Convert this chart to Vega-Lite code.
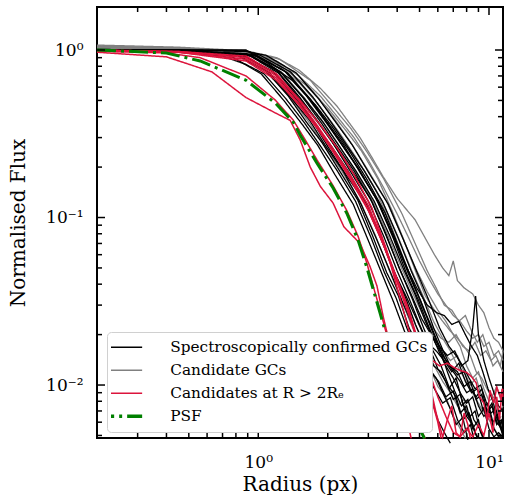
{
"$schema":"https://vega.github.io/schema/vega-lite/v6.json",
"width":406,"height":431,
"autosize":{"type":"none"},
"padding":{"left":97,"top":7,"right":3,"bottom":61},
"background":"white",
"config":{"view":{"stroke":"black","strokeWidth":2},
"axis":{"domain":false,"grid":false,"tickColor":"black","tickWidth":1.5,"labelFont":"DejaVu Serif","labelFontSize":17,"labelColor":"black","titleFont":"DejaVu Serif","titleFontSize":20,"titleFontWeight":"normal","titleColor":"black"}},
"datasets":{
"tk":[
{"a":"x","k":"M","v":1},{"a":"x","k":"M","v":10},
{"a":"x","k":"m","v":0.3},{"a":"x","k":"m","v":0.4},{"a":"x","k":"m","v":0.5},{"a":"x","k":"m","v":0.6},{"a":"x","k":"m","v":0.7},{"a":"x","k":"m","v":0.8},{"a":"x","k":"m","v":0.9},{"a":"x","k":"m","v":2},{"a":"x","k":"m","v":3},{"a":"x","k":"m","v":4},{"a":"x","k":"m","v":5},{"a":"x","k":"m","v":6},{"a":"x","k":"m","v":7},{"a":"x","k":"m","v":8},{"a":"x","k":"m","v":9},
{"a":"y","k":"M","v":0.01},{"a":"y","k":"M","v":0.1},{"a":"y","k":"M","v":1},
{"a":"y","k":"m","v":0.005},{"a":"y","k":"m","v":0.006},{"a":"y","k":"m","v":0.007},{"a":"y","k":"m","v":0.008},{"a":"y","k":"m","v":0.009},{"a":"y","k":"m","v":0.02},{"a":"y","k":"m","v":0.03},{"a":"y","k":"m","v":0.04},{"a":"y","k":"m","v":0.05},{"a":"y","k":"m","v":0.06},{"a":"y","k":"m","v":0.07},{"a":"y","k":"m","v":0.08},{"a":"y","k":"m","v":0.09},{"a":"y","k":"m","v":0.2},{"a":"y","k":"m","v":0.3},{"a":"y","k":"m","v":0.4},{"a":"y","k":"m","v":0.5},{"a":"y","k":"m","v":0.6},{"a":"y","k":"m","v":0.7},{"a":"y","k":"m","v":0.8},{"a":"y","k":"m","v":0.9}
],
"d":[
{"s":"b1","g":"b","r":0.2,"f":1.0},{"s":"b1","g":"b","r":0.45,"f":0.98},{"s":"b1","g":"b","r":0.76,"f":0.92},{"s":"b1","g":"b","r":1.03,"f":0.72},{"s":"b1","g":"b","r":1.29,"f":0.5},{"s":"b1","g":"b","r":1.55,"f":0.36},{"s":"b1","g":"b","r":1.81,"f":0.27},{"s":"b1","g":"b","r":2.15,"f":0.18},{"s":"b1","g":"b","r":2.58,"f":0.12},{"s":"b1","g":"b","r":3.01,"f":0.072},{"s":"b1","g":"b","r":3.44,"f":0.046},{"s":"b1","g":"b","r":3.87,"f":0.031},{"s":"b1","g":"b","r":4.3,"f":0.021},{"s":"b1","g":"b","r":4.73,"f":0.015},{"s":"b1","g":"b","r":5.16,"f":0.011},{"s":"b1","g":"b","r":5.6,"f":0.0085},{"s":"b1","g":"b","r":6.0,"f":0.0062},{"s":"b1","g":"b","r":6.5,"f":0.005},{"s":"b1","g":"b","r":6.8,"f":0.0045},
{"s":"b2","g":"b","r":0.2,"f":0.99},{"s":"b2","g":"b","r":0.45,"f":0.99},{"s":"b2","g":"b","r":0.8,"f":0.94},{"s":"b2","g":"b","r":1.08,"f":0.75},{"s":"b2","g":"b","r":1.35,"f":0.53},{"s":"b2","g":"b","r":1.62,"f":0.37},{"s":"b2","g":"b","r":1.89,"f":0.28},{"s":"b2","g":"b","r":2.25,"f":0.19},{"s":"b2","g":"b","r":2.7,"f":0.127},{"s":"b2","g":"b","r":3.15,"f":0.076},{"s":"b2","g":"b","r":3.6,"f":0.047},{"s":"b2","g":"b","r":4.05,"f":0.034},{"s":"b2","g":"b","r":4.5,"f":0.022},{"s":"b2","g":"b","r":4.95,"f":0.017},{"s":"b2","g":"b","r":5.4,"f":0.013},{"s":"b2","g":"b","r":5.9,"f":0.011},{"s":"b2","g":"b","r":6.3,"f":0.009},{"s":"b2","g":"b","r":6.8,"f":0.0072},{"s":"b2","g":"b","r":7.2,"f":0.0058},{"s":"b2","g":"b","r":7.7,"f":0.0064},{"s":"b2","g":"b","r":8.1,"f":0.0047},
{"s":"b3","g":"b","r":0.2,"f":1.01},{"s":"b3","g":"b","r":0.45,"f":0.99},{"s":"b3","g":"b","r":0.82,"f":0.93},{"s":"b3","g":"b","r":1.12,"f":0.73},{"s":"b3","g":"b","r":1.4,"f":0.51},{"s":"b3","g":"b","r":1.67,"f":0.38},{"s":"b3","g":"b","r":1.95,"f":0.27},{"s":"b3","g":"b","r":2.33,"f":0.19},{"s":"b3","g":"b","r":2.79,"f":0.12},{"s":"b3","g":"b","r":3.26,"f":0.074},{"s":"b3","g":"b","r":3.72,"f":0.048},{"s":"b3","g":"b","r":4.19,"f":0.032},{"s":"b3","g":"b","r":4.65,"f":0.023},{"s":"b3","g":"b","r":5.12,"f":0.016},{"s":"b3","g":"b","r":5.58,"f":0.012},{"s":"b3","g":"b","r":6.05,"f":0.0105},{"s":"b3","g":"b","r":6.5,"f":0.0085},{"s":"b3","g":"b","r":7.0,"f":0.0092},{"s":"b3","g":"b","r":7.5,"f":0.0068},{"s":"b3","g":"b","r":8.0,"f":0.0075},{"s":"b3","g":"b","r":8.5,"f":0.0055},{"s":"b3","g":"b","r":9.0,"f":0.0062},{"s":"b3","g":"b","r":9.4,"f":0.0048},
{"s":"b4","g":"b","r":0.2,"f":1.0},{"s":"b4","g":"b","r":0.45,"f":0.99},{"s":"b4","g":"b","r":0.85,"f":0.93},{"s":"b4","g":"b","r":1.15,"f":0.75},{"s":"b4","g":"b","r":1.44,"f":0.52},{"s":"b4","g":"b","r":1.73,"f":0.37},{"s":"b4","g":"b","r":2.02,"f":0.26},{"s":"b4","g":"b","r":2.4,"f":0.18},{"s":"b4","g":"b","r":2.88,"f":0.125},{"s":"b4","g":"b","r":3.36,"f":0.078},{"s":"b4","g":"b","r":3.84,"f":0.049},{"s":"b4","g":"b","r":4.32,"f":0.034},{"s":"b4","g":"b","r":4.8,"f":0.023},{"s":"b4","g":"b","r":5.28,"f":0.017},{"s":"b4","g":"b","r":5.76,"f":0.013},{"s":"b4","g":"b","r":6.2,"f":0.012},{"s":"b4","g":"b","r":6.7,"f":0.0095},{"s":"b4","g":"b","r":7.2,"f":0.011},{"s":"b4","g":"b","r":7.7,"f":0.0078},{"s":"b4","g":"b","r":8.2,"f":0.0064},{"s":"b4","g":"b","r":8.7,"f":0.007},{"s":"b4","g":"b","r":9.2,"f":0.0052},{"s":"b4","g":"b","r":9.5,"f":0.0048},
{"s":"b5","g":"b","r":0.2,"f":1.0},{"s":"b5","g":"b","r":0.45,"f":0.98},{"s":"b5","g":"b","r":0.87,"f":0.92},{"s":"b5","g":"b","r":1.18,"f":0.73},{"s":"b5","g":"b","r":1.47,"f":0.52},{"s":"b5","g":"b","r":1.76,"f":0.36},{"s":"b5","g":"b","r":2.06,"f":0.27},{"s":"b5","g":"b","r":2.45,"f":0.19},{"s":"b5","g":"b","r":2.94,"f":0.12},{"s":"b5","g":"b","r":3.43,"f":0.075},{"s":"b5","g":"b","r":3.92,"f":0.046},{"s":"b5","g":"b","r":4.41,"f":0.033},{"s":"b5","g":"b","r":4.9,"f":0.024},{"s":"b5","g":"b","r":5.39,"f":0.018},{"s":"b5","g":"b","r":5.9,"f":0.016},{"s":"b5","g":"b","r":6.4,"f":0.014},{"s":"b5","g":"b","r":6.9,"f":0.012},{"s":"b5","g":"b","r":7.4,"f":0.0135},{"s":"b5","g":"b","r":7.9,"f":0.0105},{"s":"b5","g":"b","r":8.4,"f":0.009},{"s":"b5","g":"b","r":8.9,"f":0.0095},{"s":"b5","g":"b","r":9.4,"f":0.0072},{"s":"b5","g":"b","r":9.9,"f":0.0078},{"s":"b5","g":"b","r":10.4,"f":0.006},{"s":"b5","g":"b","r":10.9,"f":0.0065},{"s":"b5","g":"b","r":11.5,"f":0.005},
{"s":"b6","g":"b","r":0.2,"f":0.99},{"s":"b6","g":"b","r":0.45,"f":0.99},{"s":"b6","g":"b","r":0.885,"f":0.95},{"s":"b6","g":"b","r":1.2,"f":0.76},{"s":"b6","g":"b","r":1.5,"f":0.53},{"s":"b6","g":"b","r":1.8,"f":0.38},{"s":"b6","g":"b","r":2.1,"f":0.28},{"s":"b6","g":"b","r":2.5,"f":0.19},{"s":"b6","g":"b","r":3.0,"f":0.125},{"s":"b6","g":"b","r":3.5,"f":0.077},{"s":"b6","g":"b","r":4.0,"f":0.048},{"s":"b6","g":"b","r":4.5,"f":0.033},{"s":"b6","g":"b","r":5.0,"f":0.023},{"s":"b6","g":"b","r":5.5,"f":0.017},{"s":"b6","g":"b","r":6.0,"f":0.0125},{"s":"b6","g":"b","r":6.5,"f":0.0105},{"s":"b6","g":"b","r":7.0,"f":0.0082},{"s":"b6","g":"b","r":7.5,"f":0.0088},{"s":"b6","g":"b","r":8.0,"f":0.0065},{"s":"b6","g":"b","r":8.5,"f":0.0058},{"s":"b6","g":"b","r":8.9,"f":0.0048},
{"s":"b7","g":"b","r":0.2,"f":1.0},{"s":"b7","g":"b","r":0.45,"f":0.99},{"s":"b7","g":"b","r":0.9,"f":0.94},{"s":"b7","g":"b","r":1.22,"f":0.73},{"s":"b7","g":"b","r":1.53,"f":0.5},{"s":"b7","g":"b","r":1.84,"f":0.36},{"s":"b7","g":"b","r":2.14,"f":0.27},{"s":"b7","g":"b","r":2.55,"f":0.19},{"s":"b7","g":"b","r":3.06,"f":0.13},{"s":"b7","g":"b","r":3.57,"f":0.08},{"s":"b7","g":"b","r":4.08,"f":0.05},{"s":"b7","g":"b","r":4.59,"f":0.035},{"s":"b7","g":"b","r":5.1,"f":0.025},{"s":"b7","g":"b","r":5.61,"f":0.02},{"s":"b7","g":"b","r":6.1,"f":0.017},{"s":"b7","g":"b","r":6.6,"f":0.015},{"s":"b7","g":"b","r":7.1,"f":0.016},{"s":"b7","g":"b","r":7.6,"f":0.013},{"s":"b7","g":"b","r":8.1,"f":0.014},{"s":"b7","g":"b","r":8.5,"f":0.022},{"s":"b7","g":"b","r":8.75,"f":0.034},{"s":"b7","g":"b","r":9.0,"f":0.02},{"s":"b7","g":"b","r":9.5,"f":0.014},{"s":"b7","g":"b","r":10.0,"f":0.011},{"s":"b7","g":"b","r":10.5,"f":0.009},{"s":"b7","g":"b","r":11.0,"f":0.0075},{"s":"b7","g":"b","r":11.5,"f":0.007},
{"s":"b8","g":"b","r":0.2,"f":1.0},{"s":"b8","g":"b","r":0.45,"f":0.99},{"s":"b8","g":"b","r":0.92,"f":0.93},{"s":"b8","g":"b","r":1.25,"f":0.74},{"s":"b8","g":"b","r":1.56,"f":0.52},{"s":"b8","g":"b","r":1.87,"f":0.37},{"s":"b8","g":"b","r":2.18,"f":0.27},{"s":"b8","g":"b","r":2.6,"f":0.19},{"s":"b8","g":"b","r":3.12,"f":0.123},{"s":"b8","g":"b","r":3.64,"f":0.074},{"s":"b8","g":"b","r":4.16,"f":0.047},{"s":"b8","g":"b","r":4.68,"f":0.032},{"s":"b8","g":"b","r":5.2,"f":0.022},{"s":"b8","g":"b","r":5.72,"f":0.016},{"s":"b8","g":"b","r":6.2,"f":0.013},{"s":"b8","g":"b","r":6.7,"f":0.0098},{"s":"b8","g":"b","r":7.2,"f":0.0085},{"s":"b8","g":"b","r":7.7,"f":0.0062},{"s":"b8","g":"b","r":8.2,"f":0.0068},{"s":"b8","g":"b","r":8.7,"f":0.0052},{"s":"b8","g":"b","r":9.0,"f":0.0048},
{"s":"b9","g":"b","r":0.2,"f":0.98},{"s":"b9","g":"b","r":0.45,"f":0.98},{"s":"b9","g":"b","r":0.94,"f":0.92},{"s":"b9","g":"b","r":1.27,"f":0.72},{"s":"b9","g":"b","r":1.59,"f":0.51},{"s":"b9","g":"b","r":1.91,"f":0.37},{"s":"b9","g":"b","r":2.23,"f":0.27},{"s":"b9","g":"b","r":2.65,"f":0.19},{"s":"b9","g":"b","r":3.18,"f":0.125},{"s":"b9","g":"b","r":3.71,"f":0.078},{"s":"b9","g":"b","r":4.24,"f":0.05},{"s":"b9","g":"b","r":4.77,"f":0.035},{"s":"b9","g":"b","r":5.3,"f":0.024},{"s":"b9","g":"b","r":5.83,"f":0.018},{"s":"b9","g":"b","r":6.3,"f":0.015},{"s":"b9","g":"b","r":6.8,"f":0.013},{"s":"b9","g":"b","r":7.3,"f":0.0115},{"s":"b9","g":"b","r":7.8,"f":0.012},{"s":"b9","g":"b","r":8.3,"f":0.0095},{"s":"b9","g":"b","r":8.8,"f":0.0085},{"s":"b9","g":"b","r":9.3,"f":0.0095},{"s":"b9","g":"b","r":9.8,"f":0.007},{"s":"b9","g":"b","r":10.3,"f":0.0078},{"s":"b9","g":"b","r":10.8,"f":0.006},{"s":"b9","g":"b","r":11.3,"f":0.0055},{"s":"b9","g":"b","r":11.5,"f":0.006},
{"s":"b10","g":"b","r":0.2,"f":1.0},{"s":"b10","g":"b","r":0.45,"f":0.99},{"s":"b10","g":"b","r":0.96,"f":0.93},{"s":"b10","g":"b","r":1.3,"f":0.75},{"s":"b10","g":"b","r":1.62,"f":0.53},{"s":"b10","g":"b","r":1.94,"f":0.38},{"s":"b10","g":"b","r":2.27,"f":0.28},{"s":"b10","g":"b","r":2.7,"f":0.2},{"s":"b10","g":"b","r":3.24,"f":0.13},{"s":"b10","g":"b","r":3.78,"f":0.082},{"s":"b10","g":"b","r":4.32,"f":0.053},{"s":"b10","g":"b","r":4.86,"f":0.038},{"s":"b10","g":"b","r":5.4,"f":0.03},{"s":"b10","g":"b","r":5.94,"f":0.027},{"s":"b10","g":"b","r":6.4,"f":0.026},{"s":"b10","g":"b","r":6.9,"f":0.023},{"s":"b10","g":"b","r":7.4,"f":0.024},{"s":"b10","g":"b","r":7.9,"f":0.02},{"s":"b10","g":"b","r":8.4,"f":0.017},{"s":"b10","g":"b","r":8.9,"f":0.015},{"s":"b10","g":"b","r":9.4,"f":0.012},{"s":"b10","g":"b","r":9.9,"f":0.0095},{"s":"b10","g":"b","r":10.4,"f":0.008},{"s":"b10","g":"b","r":10.9,"f":0.0062},{"s":"b10","g":"b","r":11.5,"f":0.005},
{"s":"b11","g":"b","r":0.2,"f":1.0},{"s":"b11","g":"b","r":0.45,"f":1.0},{"s":"b11","g":"b","r":0.97,"f":0.94},{"s":"b11","g":"b","r":1.32,"f":0.74},{"s":"b11","g":"b","r":1.65,"f":0.52},{"s":"b11","g":"b","r":1.98,"f":0.37},{"s":"b11","g":"b","r":2.31,"f":0.27},{"s":"b11","g":"b","r":2.75,"f":0.19},{"s":"b11","g":"b","r":3.3,"f":0.124},{"s":"b11","g":"b","r":3.85,"f":0.075},{"s":"b11","g":"b","r":4.4,"f":0.046},{"s":"b11","g":"b","r":4.95,"f":0.032},{"s":"b11","g":"b","r":5.5,"f":0.022},{"s":"b11","g":"b","r":6.05,"f":0.016},{"s":"b11","g":"b","r":6.5,"f":0.013},{"s":"b11","g":"b","r":7.0,"f":0.011},{"s":"b11","g":"b","r":7.5,"f":0.009},{"s":"b11","g":"b","r":8.0,"f":0.0078},{"s":"b11","g":"b","r":8.5,"f":0.0085},{"s":"b11","g":"b","r":9.0,"f":0.0065},{"s":"b11","g":"b","r":9.5,"f":0.0072},{"s":"b11","g":"b","r":10.0,"f":0.0055},{"s":"b11","g":"b","r":10.5,"f":0.0049},{"s":"b11","g":"b","r":11.0,"f":0.0052},{"s":"b11","g":"b","r":11.5,"f":0.0049},
{"s":"b12","g":"b","r":0.2,"f":1.0},{"s":"b12","g":"b","r":0.45,"f":1.0},{"s":"b12","g":"b","r":0.99,"f":0.92},{"s":"b12","g":"b","r":1.34,"f":0.73},{"s":"b12","g":"b","r":1.68,"f":0.51},{"s":"b12","g":"b","r":2.02,"f":0.36},{"s":"b12","g":"b","r":2.35,"f":0.27},{"s":"b12","g":"b","r":2.8,"f":0.18},{"s":"b12","g":"b","r":3.36,"f":0.12},{"s":"b12","g":"b","r":3.92,"f":0.073},{"s":"b12","g":"b","r":4.48,"f":0.046},{"s":"b12","g":"b","r":5.04,"f":0.032},{"s":"b12","g":"b","r":5.6,"f":0.022},{"s":"b12","g":"b","r":6.16,"f":0.016},{"s":"b12","g":"b","r":6.6,"f":0.012},{"s":"b12","g":"b","r":7.1,"f":0.0092},{"s":"b12","g":"b","r":7.6,"f":0.0075},{"s":"b12","g":"b","r":8.1,"f":0.0082},{"s":"b12","g":"b","r":8.6,"f":0.0062},{"s":"b12","g":"b","r":9.1,"f":0.0055},{"s":"b12","g":"b","r":9.5,"f":0.0048},
{"s":"b13","g":"b","r":0.2,"f":1.0},{"s":"b13","g":"b","r":0.45,"f":1.0},{"s":"b13","g":"b","r":0.885,"f":0.99},{"s":"b13","g":"b","r":1.02,"f":0.93},{"s":"b13","g":"b","r":1.38,"f":0.74},{"s":"b13","g":"b","r":1.73,"f":0.52},{"s":"b13","g":"b","r":2.07,"f":0.37},{"s":"b13","g":"b","r":2.42,"f":0.27},{"s":"b13","g":"b","r":2.88,"f":0.19},{"s":"b13","g":"b","r":3.45,"f":0.125},{"s":"b13","g":"b","r":4.03,"f":0.076},{"s":"b13","g":"b","r":4.6,"f":0.048},{"s":"b13","g":"b","r":5.18,"f":0.033},{"s":"b13","g":"b","r":5.75,"f":0.022},{"s":"b13","g":"b","r":6.33,"f":0.016},{"s":"b13","g":"b","r":6.8,"f":0.013},{"s":"b13","g":"b","r":7.3,"f":0.012},{"s":"b13","g":"b","r":7.8,"f":0.0098},{"s":"b13","g":"b","r":8.3,"f":0.0105},{"s":"b13","g":"b","r":8.8,"f":0.0082},{"s":"b13","g":"b","r":9.3,"f":0.0088},{"s":"b13","g":"b","r":9.8,"f":0.0068},{"s":"b13","g":"b","r":10.3,"f":0.0075},{"s":"b13","g":"b","r":10.8,"f":0.0058},{"s":"b13","g":"b","r":11.3,"f":0.0062},{"s":"b13","g":"b","r":11.5,"f":0.0055},
{"s":"b14","g":"b","r":0.2,"f":1.0},{"s":"b14","g":"b","r":0.45,"f":1.0},{"s":"b14","g":"b","r":0.885,"f":1.0},{"s":"b14","g":"b","r":1.09,"f":0.84},{"s":"b14","g":"b","r":1.4,"f":0.66},{"s":"b14","g":"b","r":1.77,"f":0.47},{"s":"b14","g":"b","r":2.12,"f":0.34},{"s":"b14","g":"b","r":2.48,"f":0.25},{"s":"b14","g":"b","r":2.95,"f":0.17},{"s":"b14","g":"b","r":3.54,"f":0.107},{"s":"b14","g":"b","r":4.13,"f":0.063},{"s":"b14","g":"b","r":4.72,"f":0.04},{"s":"b14","g":"b","r":5.31,"f":0.027},{"s":"b14","g":"b","r":5.9,"f":0.019},{"s":"b14","g":"b","r":6.5,"f":0.014},{"s":"b14","g":"b","r":7.0,"f":0.012},{"s":"b14","g":"b","r":7.5,"f":0.0105},{"s":"b14","g":"b","r":8.0,"f":0.009},{"s":"b14","g":"b","r":8.5,"f":0.0095},{"s":"b14","g":"b","r":9.0,"f":0.0075},{"s":"b14","g":"b","r":9.5,"f":0.0065},{"s":"b14","g":"b","r":10.0,"f":0.007},{"s":"b14","g":"b","r":10.5,"f":0.0055},{"s":"b14","g":"b","r":11.0,"f":0.0049},{"s":"b14","g":"b","r":11.5,"f":0.0049},
{"s":"b15","g":"b","r":0.2,"f":1.0},{"s":"b15","g":"b","r":0.45,"f":1.0},{"s":"b15","g":"b","r":0.885,"f":0.98},{"s":"b15","g":"b","r":1.08,"f":0.93},{"s":"b15","g":"b","r":1.46,"f":0.73},{"s":"b15","g":"b","r":1.83,"f":0.51},{"s":"b15","g":"b","r":2.2,"f":0.36},{"s":"b15","g":"b","r":2.56,"f":0.27},{"s":"b15","g":"b","r":3.05,"f":0.18},{"s":"b15","g":"b","r":3.66,"f":0.12},{"s":"b15","g":"b","r":4.27,"f":0.073},{"s":"b15","g":"b","r":4.88,"f":0.047},{"s":"b15","g":"b","r":5.49,"f":0.032},{"s":"b15","g":"b","r":6.1,"f":0.022},{"s":"b15","g":"b","r":6.71,"f":0.017},{"s":"b15","g":"b","r":7.2,"f":0.015},{"s":"b15","g":"b","r":7.7,"f":0.013},{"s":"b15","g":"b","r":8.2,"f":0.011},{"s":"b15","g":"b","r":8.7,"f":0.0095},{"s":"b15","g":"b","r":9.2,"f":0.01},{"s":"b15","g":"b","r":9.7,"f":0.008},{"s":"b15","g":"b","r":10.2,"f":0.0068},{"s":"b15","g":"b","r":10.7,"f":0.0072},{"s":"b15","g":"b","r":11.2,"f":0.0058},{"s":"b15","g":"b","r":11.5,"f":0.0062},
{"s":"b16","g":"b","r":0.2,"f":0.99},{"s":"b16","g":"b","r":0.45,"f":0.97},{"s":"b16","g":"b","r":0.7,"f":0.92},{"s":"b16","g":"b","r":0.885,"f":0.82},{"s":"b16","g":"b","r":1.06,"f":0.72},{"s":"b16","g":"b","r":1.32,"f":0.51},{"s":"b16","g":"b","r":1.58,"f":0.37},{"s":"b16","g":"b","r":1.85,"f":0.27},{"s":"b16","g":"b","r":2.2,"f":0.19},{"s":"b16","g":"b","r":2.64,"f":0.125},{"s":"b16","g":"b","r":3.08,"f":0.076},{"s":"b16","g":"b","r":3.52,"f":0.047},{"s":"b16","g":"b","r":3.96,"f":0.033},{"s":"b16","g":"b","r":4.4,"f":0.022},{"s":"b16","g":"b","r":4.84,"f":0.016},{"s":"b16","g":"b","r":5.28,"f":0.012},{"s":"b16","g":"b","r":5.8,"f":0.0095},{"s":"b16","g":"b","r":6.3,"f":0.0078},{"s":"b16","g":"b","r":6.8,"f":0.0084},{"s":"b16","g":"b","r":7.3,"f":0.0062},{"s":"b16","g":"b","r":7.8,"f":0.0052},{"s":"b16","g":"b","r":8.3,"f":0.0058},{"s":"b16","g":"b","r":8.6,"f":0.0048},
{"s":"c1","g":"c","r":0.2,"f":1.07},{"s":"c1","g":"c","r":0.45,"f":1.04},{"s":"c1","g":"c","r":0.885,"f":0.99},{"s":"c1","g":"c","r":1.2,"f":0.9},{"s":"c1","g":"c","r":1.5,"f":0.76},{"s":"c1","g":"c","r":1.86,"f":0.59},{"s":"c1","g":"c","r":2.2,"f":0.46},{"s":"c1","g":"c","r":2.76,"f":0.3},{"s":"c1","g":"c","r":3.1,"f":0.23},{"s":"c1","g":"c","r":3.48,"f":0.175},{"s":"c1","g":"c","r":4.0,"f":0.13},{"s":"c1","g":"c","r":4.78,"f":0.097},{"s":"c1","g":"c","r":5.3,"f":0.075},{"s":"c1","g":"c","r":5.8,"f":0.06},{"s":"c1","g":"c","r":6.3,"f":0.05},{"s":"c1","g":"c","r":6.7,"f":0.045},{"s":"c1","g":"c","r":7.0,"f":0.055},{"s":"c1","g":"c","r":7.3,"f":0.042},{"s":"c1","g":"c","r":7.8,"f":0.038},{"s":"c1","g":"c","r":8.5,"f":0.035},{"s":"c1","g":"c","r":9.0,"f":0.03},{"s":"c1","g":"c","r":9.5,"f":0.027},{"s":"c1","g":"c","r":10.0,"f":0.022},{"s":"c1","g":"c","r":10.5,"f":0.019},{"s":"c1","g":"c","r":11.0,"f":0.018},{"s":"c1","g":"c","r":11.5,"f":0.016},
{"s":"c2","g":"c","r":0.2,"f":1.05},{"s":"c2","g":"c","r":0.45,"f":1.03},{"s":"c2","g":"c","r":0.885,"f":0.97},{"s":"c2","g":"c","r":1.2,"f":0.86},{"s":"c2","g":"c","r":1.5,"f":0.7},{"s":"c2","g":"c","r":1.86,"f":0.53},{"s":"c2","g":"c","r":2.2,"f":0.4},{"s":"c2","g":"c","r":2.6,"f":0.3},{"s":"c2","g":"c","r":3.0,"f":0.22},{"s":"c2","g":"c","r":3.5,"f":0.15},{"s":"c2","g":"c","r":4.0,"f":0.105},{"s":"c2","g":"c","r":4.5,"f":0.075},{"s":"c2","g":"c","r":5.0,"f":0.055},{"s":"c2","g":"c","r":5.5,"f":0.043},{"s":"c2","g":"c","r":6.0,"f":0.035},{"s":"c2","g":"c","r":6.5,"f":0.03},{"s":"c2","g":"c","r":7.0,"f":0.026},{"s":"c2","g":"c","r":7.5,"f":0.024},{"s":"c2","g":"c","r":8.0,"f":0.021},{"s":"c2","g":"c","r":8.5,"f":0.019},{"s":"c2","g":"c","r":9.0,"f":0.02},{"s":"c2","g":"c","r":9.5,"f":0.017},{"s":"c2","g":"c","r":10.0,"f":0.018},{"s":"c2","g":"c","r":10.5,"f":0.015},{"s":"c2","g":"c","r":11.0,"f":0.016},{"s":"c2","g":"c","r":11.5,"f":0.014},
{"s":"c3","g":"c","r":0.2,"f":1.04},{"s":"c3","g":"c","r":0.45,"f":1.02},{"s":"c3","g":"c","r":0.885,"f":0.96},{"s":"c3","g":"c","r":1.2,"f":0.84},{"s":"c3","g":"c","r":1.6,"f":0.62},{"s":"c3","g":"c","r":2.0,"f":0.45},{"s":"c3","g":"c","r":2.4,"f":0.33},{"s":"c3","g":"c","r":2.8,"f":0.25},{"s":"c3","g":"c","r":3.3,"f":0.17},{"s":"c3","g":"c","r":3.8,"f":0.11},{"s":"c3","g":"c","r":4.3,"f":0.072},{"s":"c3","g":"c","r":4.8,"f":0.048},{"s":"c3","g":"c","r":5.3,"f":0.034},{"s":"c3","g":"c","r":5.8,"f":0.028},{"s":"c3","g":"c","r":6.3,"f":0.024},{"s":"c3","g":"c","r":6.8,"f":0.021},{"s":"c3","g":"c","r":7.3,"f":0.019},{"s":"c3","g":"c","r":7.8,"f":0.017},{"s":"c3","g":"c","r":8.3,"f":0.015},{"s":"c3","g":"c","r":8.8,"f":0.012},{"s":"c3","g":"c","r":9.3,"f":0.011},{"s":"c3","g":"c","r":9.8,"f":0.0095},{"s":"c3","g":"c","r":10.3,"f":0.0085},{"s":"c3","g":"c","r":10.8,"f":0.0098},{"s":"c3","g":"c","r":11.3,"f":0.008},
{"s":"c4","g":"c","r":0.2,"f":1.03},{"s":"c4","g":"c","r":0.45,"f":1.01},{"s":"c4","g":"c","r":0.885,"f":0.96},{"s":"c4","g":"c","r":1.2,"f":0.82},{"s":"c4","g":"c","r":1.5,"f":0.64},{"s":"c4","g":"c","r":1.85,"f":0.46},{"s":"c4","g":"c","r":2.25,"f":0.32},{"s":"c4","g":"c","r":2.7,"f":0.22},{"s":"c4","g":"c","r":3.2,"f":0.15},{"s":"c4","g":"c","r":3.7,"f":0.095},{"s":"c4","g":"c","r":4.2,"f":0.06},{"s":"c4","g":"c","r":4.7,"f":0.04},{"s":"c4","g":"c","r":5.2,"f":0.028},{"s":"c4","g":"c","r":5.7,"f":0.022},{"s":"c4","g":"c","r":6.2,"f":0.019},{"s":"c4","g":"c","r":6.7,"f":0.018},{"s":"c4","g":"c","r":7.2,"f":0.02},{"s":"c4","g":"c","r":7.7,"f":0.017},{"s":"c4","g":"c","r":8.2,"f":0.016},{"s":"c4","g":"c","r":8.7,"f":0.018},{"s":"c4","g":"c","r":9.2,"f":0.015},{"s":"c4","g":"c","r":9.7,"f":0.016},{"s":"c4","g":"c","r":10.2,"f":0.014},{"s":"c4","g":"c","r":10.7,"f":0.015},{"s":"c4","g":"c","r":11.2,"f":0.013},{"s":"c4","g":"c","r":11.5,"f":0.016},
{"s":"c5","g":"c","r":0.2,"f":1.04},{"s":"c5","g":"c","r":0.45,"f":1.02},{"s":"c5","g":"c","r":0.885,"f":0.96},{"s":"c5","g":"c","r":1.02,"f":0.92},{"s":"c5","g":"c","r":1.38,"f":0.74},{"s":"c5","g":"c","r":1.73,"f":0.52},{"s":"c5","g":"c","r":2.07,"f":0.37},{"s":"c5","g":"c","r":2.42,"f":0.27},{"s":"c5","g":"c","r":2.88,"f":0.19},{"s":"c5","g":"c","r":3.45,"f":0.125},{"s":"c5","g":"c","r":4.03,"f":0.077},{"s":"c5","g":"c","r":4.6,"f":0.049},{"s":"c5","g":"c","r":5.18,"f":0.034},{"s":"c5","g":"c","r":5.75,"f":0.024},{"s":"c5","g":"c","r":6.3,"f":0.019},{"s":"c5","g":"c","r":6.8,"f":0.016},{"s":"c5","g":"c","r":7.3,"f":0.013},{"s":"c5","g":"c","r":7.8,"f":0.011},{"s":"c5","g":"c","r":8.3,"f":0.0095},{"s":"c5","g":"c","r":8.8,"f":0.0082},{"s":"c5","g":"c","r":9.3,"f":0.0072},{"s":"c5","g":"c","r":9.8,"f":0.0065},{"s":"c5","g":"c","r":10.3,"f":0.0058},{"s":"c5","g":"c","r":10.8,"f":0.0052},{"s":"c5","g":"c","r":11.3,"f":0.0049},
{"s":"c6","g":"c","r":0.2,"f":1.02},{"s":"c6","g":"c","r":0.45,"f":1.0},{"s":"c6","g":"c","r":0.93,"f":0.94},{"s":"c6","g":"c","r":1.26,"f":0.74},{"s":"c6","g":"c","r":1.58,"f":0.52},{"s":"c6","g":"c","r":1.89,"f":0.38},{"s":"c6","g":"c","r":2.2,"f":0.28},{"s":"c6","g":"c","r":2.63,"f":0.19},{"s":"c6","g":"c","r":3.15,"f":0.124},{"s":"c6","g":"c","r":3.68,"f":0.076},{"s":"c6","g":"c","r":4.2,"f":0.049},{"s":"c6","g":"c","r":4.73,"f":0.034},{"s":"c6","g":"c","r":5.25,"f":0.025},{"s":"c6","g":"c","r":5.78,"f":0.019},{"s":"c6","g":"c","r":6.3,"f":0.016},{"s":"c6","g":"c","r":6.8,"f":0.014},{"s":"c6","g":"c","r":7.3,"f":0.015},{"s":"c6","g":"c","r":7.8,"f":0.012},{"s":"c6","g":"c","r":8.3,"f":0.01},{"s":"c6","g":"c","r":8.8,"f":0.011},{"s":"c6","g":"c","r":9.3,"f":0.0085},{"s":"c6","g":"c","r":9.8,"f":0.007},{"s":"c6","g":"c","r":10.3,"f":0.0075},{"s":"c6","g":"c","r":10.8,"f":0.006},{"s":"c6","g":"c","r":11.3,"f":0.0065},
{"s":"c7","g":"c","r":0.2,"f":1.02},{"s":"c7","g":"c","r":0.45,"f":0.99},{"s":"c7","g":"c","r":0.86,"f":0.93},{"s":"c7","g":"c","r":1.16,"f":0.74},{"s":"c7","g":"c","r":1.46,"f":0.52},{"s":"c7","g":"c","r":1.75,"f":0.37},{"s":"c7","g":"c","r":2.04,"f":0.27},{"s":"c7","g":"c","r":2.43,"f":0.19},{"s":"c7","g":"c","r":2.91,"f":0.124},{"s":"c7","g":"c","r":3.4,"f":0.075},{"s":"c7","g":"c","r":3.88,"f":0.047},{"s":"c7","g":"c","r":4.37,"f":0.032},{"s":"c7","g":"c","r":4.85,"f":0.022},{"s":"c7","g":"c","r":5.3,"f":0.017},{"s":"c7","g":"c","r":5.8,"f":0.013},{"s":"c7","g":"c","r":6.3,"f":0.0105},{"s":"c7","g":"c","r":6.8,"f":0.009},{"s":"c7","g":"c","r":7.3,"f":0.0075},{"s":"c7","g":"c","r":7.8,"f":0.0082},{"s":"c7","g":"c","r":8.3,"f":0.006},{"s":"c7","g":"c","r":8.8,"f":0.005},{"s":"c7","g":"c","r":9.0,"f":0.0048},
{"s":"c8","g":"c","r":0.2,"f":1.05},{"s":"c8","g":"c","r":0.45,"f":1.03},{"s":"c8","g":"c","r":0.885,"f":0.98},{"s":"c8","g":"c","r":1.24,"f":0.88},{"s":"c8","g":"c","r":1.68,"f":0.66},{"s":"c8","g":"c","r":2.1,"f":0.46},{"s":"c8","g":"c","r":2.52,"f":0.34},{"s":"c8","g":"c","r":2.94,"f":0.25},{"s":"c8","g":"c","r":3.5,"f":0.17},{"s":"c8","g":"c","r":4.2,"f":0.105},{"s":"c8","g":"c","r":4.9,"f":0.065},{"s":"c8","g":"c","r":5.4,"f":0.048},{"s":"c8","g":"c","r":5.9,"f":0.038},{"s":"c8","g":"c","r":6.4,"f":0.03},{"s":"c8","g":"c","r":6.9,"f":0.028},{"s":"c8","g":"c","r":7.4,"f":0.024},{"s":"c8","g":"c","r":7.9,"f":0.026},{"s":"c8","g":"c","r":8.4,"f":0.021},{"s":"c8","g":"c","r":8.9,"f":0.018},{"s":"c8","g":"c","r":9.4,"f":0.02},{"s":"c8","g":"c","r":9.9,"f":0.016},{"s":"c8","g":"c","r":10.4,"f":0.013},{"s":"c8","g":"c","r":10.9,"f":0.014},{"s":"c8","g":"c","r":11.5,"f":0.012},
{"s":"c9","g":"c","r":0.2,"f":1.05},{"s":"c9","g":"c","r":0.45,"f":1.01},{"s":"c9","g":"c","r":0.81,"f":0.93},{"s":"c9","g":"c","r":1.1,"f":0.73},{"s":"c9","g":"c","r":1.38,"f":0.52},{"s":"c9","g":"c","r":1.66,"f":0.37},{"s":"c9","g":"c","r":1.93,"f":0.27},{"s":"c9","g":"c","r":2.3,"f":0.19},{"s":"c9","g":"c","r":2.76,"f":0.125},{"s":"c9","g":"c","r":3.22,"f":0.078},{"s":"c9","g":"c","r":3.68,"f":0.049},{"s":"c9","g":"c","r":4.14,"f":0.033},{"s":"c9","g":"c","r":4.6,"f":0.023},{"s":"c9","g":"c","r":5.06,"f":0.017},{"s":"c9","g":"c","r":5.5,"f":0.013},{"s":"c9","g":"c","r":6.0,"f":0.0098},{"s":"c9","g":"c","r":6.5,"f":0.0085},{"s":"c9","g":"c","r":7.0,"f":0.0065},{"s":"c9","g":"c","r":7.5,"f":0.0055},{"s":"c9","g":"c","r":7.9,"f":0.0048},
{"s":"c10","g":"c","r":0.2,"f":1.06},{"s":"c10","g":"c","r":0.45,"f":1.02},{"s":"c10","g":"c","r":0.885,"f":0.96},{"s":"c10","g":"c","r":1.06,"f":0.92},{"s":"c10","g":"c","r":1.44,"f":0.74},{"s":"c10","g":"c","r":1.8,"f":0.53},{"s":"c10","g":"c","r":2.16,"f":0.38},{"s":"c10","g":"c","r":2.52,"f":0.28},{"s":"c10","g":"c","r":3.0,"f":0.19},{"s":"c10","g":"c","r":3.6,"f":0.125},{"s":"c10","g":"c","r":4.2,"f":0.077},{"s":"c10","g":"c","r":4.8,"f":0.05},{"s":"c10","g":"c","r":5.4,"f":0.036},{"s":"c10","g":"c","r":6.0,"f":0.028},{"s":"c10","g":"c","r":6.5,"f":0.024},{"s":"c10","g":"c","r":7.0,"f":0.02},{"s":"c10","g":"c","r":7.5,"f":0.017},{"s":"c10","g":"c","r":8.0,"f":0.013},{"s":"c10","g":"c","r":8.5,"f":0.011},{"s":"c10","g":"c","r":9.0,"f":0.012},{"s":"c10","g":"c","r":9.5,"f":0.0095},{"s":"c10","g":"c","r":10.0,"f":0.008},{"s":"c10","g":"c","r":10.5,"f":0.0085},{"s":"c10","g":"c","r":11.0,"f":0.0068},{"s":"c10","g":"c","r":11.5,"f":0.0075},
{"s":"r1","g":"r","r":0.2,"f":0.97},{"s":"r1","g":"r","r":0.4,"f":0.91},{"s":"r1","g":"r","r":0.63,"f":0.74},{"s":"r1","g":"r","r":0.885,"f":0.52},{"s":"r1","g":"r","r":1.19,"f":0.42},{"s":"r1","g":"r","r":1.375,"f":0.38},{"s":"r1","g":"r","r":1.52,"f":0.29},{"s":"r1","g":"r","r":1.68,"f":0.2},{"s":"r1","g":"r","r":1.86,"f":0.153},{"s":"r1","g":"r","r":2.11,"f":0.122},{"s":"r1","g":"r","r":2.35,"f":0.088},{"s":"r1","g":"r","r":2.76,"f":0.07},{"s":"r1","g":"r","r":3.05,"f":0.051},{"s":"r1","g":"r","r":3.27,"f":0.039},{"s":"r1","g":"r","r":3.48,"f":0.0256},{"s":"r1","g":"r","r":3.6,"f":0.021},{"s":"r1","g":"r","r":3.9,"f":0.014},{"s":"r1","g":"r","r":4.2,"f":0.0085},{"s":"r1","g":"r","r":4.5,"f":0.0055},{"s":"r1","g":"r","r":4.6,"f":0.0048},
{"s":"r2","g":"r","r":0.2,"f":0.99},{"s":"r2","g":"r","r":0.4,"f":0.96},{"s":"r2","g":"r","r":0.56,"f":0.9},{"s":"r2","g":"r","r":0.885,"f":0.7},{"s":"r2","g":"r","r":1.19,"f":0.5},{"s":"r2","g":"r","r":1.42,"f":0.38},{"s":"r2","g":"r","r":1.6,"f":0.29},{"s":"r2","g":"r","r":1.8,"f":0.22},{"s":"r2","g":"r","r":2.11,"f":0.155},{"s":"r2","g":"r","r":2.42,"f":0.11},{"s":"r2","g":"r","r":2.71,"f":0.077},{"s":"r2","g":"r","r":2.96,"f":0.053},{"s":"r2","g":"r","r":3.2,"f":0.036},{"s":"r2","g":"r","r":3.4,"f":0.027},{"s":"r2","g":"r","r":3.6,"f":0.02},{"s":"r2","g":"r","r":4.0,"f":0.013},{"s":"r2","g":"r","r":4.55,"f":0.0078},{"s":"r2","g":"r","r":5.1,"f":0.0053},{"s":"r2","g":"r","r":5.3,"f":0.0048},
{"s":"r3","g":"r","r":0.2,"f":1.0},{"s":"r3","g":"r","r":0.45,"f":0.97},{"s":"r3","g":"r","r":0.885,"f":0.86},{"s":"r3","g":"r","r":1.2,"f":0.66},{"s":"r3","g":"r","r":1.5,"f":0.47},{"s":"r3","g":"r","r":1.8,"f":0.34},{"s":"r3","g":"r","r":2.1,"f":0.25},{"s":"r3","g":"r","r":2.5,"f":0.17},{"s":"r3","g":"r","r":3.0,"f":0.11},{"s":"r3","g":"r","r":3.5,"f":0.068},{"s":"r3","g":"r","r":4.0,"f":0.042},{"s":"r3","g":"r","r":4.4,"f":0.03},{"s":"r3","g":"r","r":4.8,"f":0.02},{"s":"r3","g":"r","r":5.2,"f":0.013},{"s":"r3","g":"r","r":5.6,"f":0.0085},{"s":"r3","g":"r","r":6.0,"f":0.006},{"s":"r3","g":"r","r":6.2,"f":0.0048},
{"s":"r4","g":"r","r":0.2,"f":0.99},{"s":"r4","g":"r","r":0.45,"f":0.98},{"s":"r4","g":"r","r":0.885,"f":0.92},{"s":"r4","g":"r","r":1.2,"f":0.72},{"s":"r4","g":"r","r":1.52,"f":0.5},{"s":"r4","g":"r","r":1.85,"f":0.36},{"s":"r4","g":"r","r":2.2,"f":0.26},{"s":"r4","g":"r","r":2.6,"f":0.18},{"s":"r4","g":"r","r":3.1,"f":0.115},{"s":"r4","g":"r","r":3.6,"f":0.064},{"s":"r4","g":"r","r":4.0,"f":0.038},{"s":"r4","g":"r","r":4.55,"f":0.02},{"s":"r4","g":"r","r":5.0,"f":0.017},{"s":"r4","g":"r","r":5.7,"f":0.014},{"s":"r4","g":"r","r":6.1,"f":0.013},{"s":"r4","g":"r","r":6.6,"f":0.0135},{"s":"r4","g":"r","r":7.0,"f":0.0128},{"s":"r4","g":"r","r":7.5,"f":0.0122},{"s":"r4","g":"r","r":8.0,"f":0.0119},{"s":"r4","g":"r","r":8.4,"f":0.0112},{"s":"r4","g":"r","r":8.8,"f":0.0103},{"s":"r4","g":"r","r":9.1,"f":0.0085},{"s":"r4","g":"r","r":9.5,"f":0.0078},{"s":"r4","g":"r","r":9.8,"f":0.0062},{"s":"r4","g":"r","r":10.1,"f":0.0093},{"s":"r4","g":"r","r":10.5,"f":0.0078},{"s":"r4","g":"r","r":10.8,"f":0.0097},{"s":"r4","g":"r","r":11.2,"f":0.0085},{"s":"r4","g":"r","r":11.5,"f":0.0095},
{"s":"r5","g":"r","r":0.2,"f":1.0},{"s":"r5","g":"r","r":0.45,"f":0.98},{"s":"r5","g":"r","r":0.885,"f":0.9},{"s":"r5","g":"r","r":1.2,"f":0.7},{"s":"r5","g":"r","r":1.5,"f":0.5},{"s":"r5","g":"r","r":1.8,"f":0.355},{"s":"r5","g":"r","r":2.1,"f":0.26},{"s":"r5","g":"r","r":2.5,"f":0.18},{"s":"r5","g":"r","r":3.0,"f":0.118},{"s":"r5","g":"r","r":3.5,"f":0.07},{"s":"r5","g":"r","r":4.0,"f":0.043},{"s":"r5","g":"r","r":4.5,"f":0.028},{"s":"r5","g":"r","r":5.0,"f":0.017},{"s":"r5","g":"r","r":5.5,"f":0.0105},{"s":"r5","g":"r","r":5.9,"f":0.0068},{"s":"r5","g":"r","r":6.3,"f":0.0049},{"s":"r5","g":"r","r":6.6,"f":0.0062},{"s":"r5","g":"r","r":6.9,"f":0.0075},{"s":"r5","g":"r","r":7.2,"f":0.0052},{"s":"r5","g":"r","r":7.5,"f":0.0049},{"s":"r5","g":"r","r":7.8,"f":0.0068},{"s":"r5","g":"r","r":8.1,"f":0.0058},{"s":"r5","g":"r","r":8.3,"f":0.0048},
{"s":"r6","g":"r","r":0.2,"f":0.98},{"s":"r6","g":"r","r":0.45,"f":0.97},{"s":"r6","g":"r","r":0.885,"f":0.88},{"s":"r6","g":"r","r":1.2,"f":0.68},{"s":"r6","g":"r","r":1.5,"f":0.48},{"s":"r6","g":"r","r":1.8,"f":0.345},{"s":"r6","g":"r","r":2.1,"f":0.25},{"s":"r6","g":"r","r":2.5,"f":0.175},{"s":"r6","g":"r","r":3.0,"f":0.112},{"s":"r6","g":"r","r":3.5,"f":0.068},{"s":"r6","g":"r","r":4.0,"f":0.041},{"s":"r6","g":"r","r":4.5,"f":0.026},{"s":"r6","g":"r","r":5.0,"f":0.017},{"s":"r6","g":"r","r":5.5,"f":0.012},{"s":"r6","g":"r","r":6.0,"f":0.0085},{"s":"r6","g":"r","r":6.5,"f":0.0065},{"s":"r6","g":"r","r":7.0,"f":0.0052},{"s":"r6","g":"r","r":7.5,"f":0.0049},{"s":"r6","g":"r","r":8.0,"f":0.0055},{"s":"r6","g":"r","r":8.5,"f":0.0049},{"s":"r6","g":"r","r":9.0,"f":0.0058},{"s":"r6","g":"r","r":9.5,"f":0.005},{"s":"r6","g":"r","r":10.0,"f":0.0068},{"s":"r6","g":"r","r":10.4,"f":0.0052},{"s":"r6","g":"r","r":10.8,"f":0.0085},{"s":"r6","g":"r","r":11.1,"f":0.0062},{"s":"r6","g":"r","r":11.4,"f":0.0095},{"s":"r6","g":"r","r":11.5,"f":0.0085},
{"s":"p","g":"p","r":0.2,"f":1.0},{"s":"p","g":"p","r":0.4,"f":0.96},{"s":"p","g":"p","r":0.56,"f":0.86},{"s":"p","g":"p","r":0.885,"f":0.66},{"s":"p","g":"p","r":1.19,"f":0.48},{"s":"p","g":"p","r":1.42,"f":0.37},{"s":"p","g":"p","r":1.52,"f":0.31},{"s":"p","g":"p","r":1.8,"f":0.21},{"s":"p","g":"p","r":2.11,"f":0.15},{"s":"p","g":"p","r":2.42,"f":0.106},{"s":"p","g":"p","r":2.71,"f":0.073},{"s":"p","g":"p","r":2.96,"f":0.05},{"s":"p","g":"p","r":3.37,"f":0.027},{"s":"p","g":"p","r":3.6,"f":0.0195},{"s":"p","g":"p","r":4.0,"f":0.012},{"s":"p","g":"p","r":4.55,"f":0.0074},{"s":"p","g":"p","r":5.1,"f":0.0052},{"s":"p","g":"p","r":5.25,"f":0.0048}
]},
"data":{"name":"d"},
"encoding":{
"detail":{"field":"s","type":"nominal"},
"color":{"field":"g","type":"nominal","scale":{"domain":["b","c","r","p"],"range":["#000000","#808080","#dc143c","#008000"]},
"legend":{"orient":"none","legendX":10,"legendY":325,"title":null,"symbolType":"stroke","symbolSize":2209,"clipHeight":22.5,"rowPadding":0,"padding":4,"symbolOffset":0,"labelOffset":44,"labelFont":"DejaVu Serif","labelFontSize":15.3,"labelColor":"black","labelLimit":400,"fillColor":"white","strokeColor":"#d0d0d0","cornerRadius":4,
"labelExpr":"datum.label == 'b' ? 'Spectroscopically confirmed GCs' : datum.label == 'c' ? 'Candidate GCs' : datum.label == 'r' ? 'Candidates at R > 2Rₑ' : 'PSF'",
"encode":{"symbols":{"update":{"strokeWidth":{"signal":"datum.value == 'p' ? 3.5 : 1.6"}}}}}},
"strokeDash":{"field":"g","type":"nominal","scale":{"domain":["b","c","r","p"],"range":[[1,0],[1,0],[1,0],[19,5,3,5]]}}
},
"layer":[
{"transform":[{"filter":"datum.g == 'c'"}],"mark":{"type":"line","strokeWidth":1.3},
"encoding":{
"x":{"field":"r","type":"quantitative","scale":{"type":"log","domain":[0.2,11.5],"nice":false},"axis":{"orient":"bottom","values":[1,10],"labelExpr":"datum.value < 5 ? '10⁰' : '10¹'","title":"Radius (px)","ticks":false,"labelPadding":16,"titlePadding":4}},
"y":{"field":"f","type":"quantitative","scale":{"type":"log","domain":[0.004828,1.806],"nice":false},"axis":{"orient":"left","values":[0.01,0.1,1],"labelExpr":"datum.value > 0.5 ? '10⁰' : datum.value > 0.05 ? '10⁻¹' : '10⁻²'","title":"Normalised Flux","ticks":false,"labelPadding":14,"titlePadding":17}}}},
{"transform":[{"filter":"datum.g == 'b'"}],"mark":{"type":"line","strokeWidth":1.3},
"encoding":{
"x":{"field":"r","type":"quantitative","scale":{"type":"log","domain":[0.2,11.5],"nice":false},"axis":null},
"y":{"field":"f","type":"quantitative","scale":{"type":"log","domain":[0.004828,1.806],"nice":false},"axis":null}}},
{"transform":[{"filter":"datum.g == 'r'"}],"mark":{"type":"line","strokeWidth":1.5},
"encoding":{
"x":{"field":"r","type":"quantitative","scale":{"type":"log","domain":[0.2,11.5],"nice":false},"axis":null},
"y":{"field":"f","type":"quantitative","scale":{"type":"log","domain":[0.004828,1.806],"nice":false},"axis":null}}},
{"transform":[{"filter":"datum.g == 'p'"}],"mark":{"type":"line","strokeWidth":3},
"encoding":{
"x":{"field":"r","type":"quantitative","scale":{"type":"log","domain":[0.2,11.5],"nice":false},"axis":null},
"y":{"field":"f","type":"quantitative","scale":{"type":"log","domain":[0.004828,1.806],"nice":false},"axis":null}}},
{"data":{"name":"tk"},"transform":[{"filter":"datum.a == 'x' && datum.k == 'M'"}],"mark":{"type":"tick","orient":"vertical","size":16,"thickness":1.5,"opacity":1,"clip":true},
"encoding":{"x":{"field":"v","type":"quantitative","scale":{"type":"log","domain":[0.2,11.5],"nice":false},"axis":null},"y":{"datum":1.806,"type":"quantitative","scale":{"type":"log","domain":[0.004828,1.806],"nice":false},"axis":null},"color":{"value":"black"},"strokeDash":{"value":[1,0]}}},
{"data":{"name":"tk"},"transform":[{"filter":"datum.a == 'x' && datum.k == 'm'"}],"mark":{"type":"tick","orient":"vertical","size":10,"thickness":1.5,"opacity":1,"clip":true},
"encoding":{"x":{"field":"v","type":"quantitative","scale":{"type":"log","domain":[0.2,11.5],"nice":false},"axis":null},"y":{"datum":1.806,"type":"quantitative","scale":{"type":"log","domain":[0.004828,1.806],"nice":false},"axis":null},"color":{"value":"black"},"strokeDash":{"value":[1,0]}}},
{"data":{"name":"tk"},"transform":[{"filter":"datum.a == 'x' && datum.k == 'M'"}],"mark":{"type":"tick","orient":"vertical","size":16,"thickness":1.5,"opacity":1,"clip":true},
"encoding":{"x":{"field":"v","type":"quantitative","scale":{"type":"log","domain":[0.2,11.5],"nice":false},"axis":null},"y":{"datum":0.004828,"type":"quantitative","scale":{"type":"log","domain":[0.004828,1.806],"nice":false},"axis":null},"color":{"value":"black"},"strokeDash":{"value":[1,0]}}},
{"data":{"name":"tk"},"transform":[{"filter":"datum.a == 'x' && datum.k == 'm'"}],"mark":{"type":"tick","orient":"vertical","size":10,"thickness":1.5,"opacity":1,"clip":true},
"encoding":{"x":{"field":"v","type":"quantitative","scale":{"type":"log","domain":[0.2,11.5],"nice":false},"axis":null},"y":{"datum":0.004828,"type":"quantitative","scale":{"type":"log","domain":[0.004828,1.806],"nice":false},"axis":null},"color":{"value":"black"},"strokeDash":{"value":[1,0]}}},
{"data":{"name":"tk"},"transform":[{"filter":"datum.a == 'y' && datum.k == 'M'"}],"mark":{"type":"tick","orient":"horizontal","size":16,"thickness":1.5,"opacity":1,"clip":true},
"encoding":{"y":{"field":"v","type":"quantitative","scale":{"type":"log","domain":[0.004828,1.806],"nice":false},"axis":null},"x":{"datum":0.2,"type":"quantitative","scale":{"type":"log","domain":[0.2,11.5],"nice":false},"axis":null},"color":{"value":"black"},"strokeDash":{"value":[1,0]}}},
{"data":{"name":"tk"},"transform":[{"filter":"datum.a == 'y' && datum.k == 'm'"}],"mark":{"type":"tick","orient":"horizontal","size":10,"thickness":1.5,"opacity":1,"clip":true},
"encoding":{"y":{"field":"v","type":"quantitative","scale":{"type":"log","domain":[0.004828,1.806],"nice":false},"axis":null},"x":{"datum":0.2,"type":"quantitative","scale":{"type":"log","domain":[0.2,11.5],"nice":false},"axis":null},"color":{"value":"black"},"strokeDash":{"value":[1,0]}}},
{"data":{"name":"tk"},"transform":[{"filter":"datum.a == 'y' && datum.k == 'M'"}],"mark":{"type":"tick","orient":"horizontal","size":16,"thickness":1.5,"opacity":1,"clip":true},
"encoding":{"y":{"field":"v","type":"quantitative","scale":{"type":"log","domain":[0.004828,1.806],"nice":false},"axis":null},"x":{"datum":11.5,"type":"quantitative","scale":{"type":"log","domain":[0.2,11.5],"nice":false},"axis":null},"color":{"value":"black"},"strokeDash":{"value":[1,0]}}},
{"data":{"name":"tk"},"transform":[{"filter":"datum.a == 'y' && datum.k == 'm'"}],"mark":{"type":"tick","orient":"horizontal","size":10,"thickness":1.5,"opacity":1,"clip":true},
"encoding":{"y":{"field":"v","type":"quantitative","scale":{"type":"log","domain":[0.004828,1.806],"nice":false},"axis":null},"x":{"datum":11.5,"type":"quantitative","scale":{"type":"log","domain":[0.2,11.5],"nice":false},"axis":null},"color":{"value":"black"},"strokeDash":{"value":[1,0]}}}
],
"resolve":{"scale":{"x":"independent","y":"independent"},"axis":{"x":"independent","y":"independent"}}
}
